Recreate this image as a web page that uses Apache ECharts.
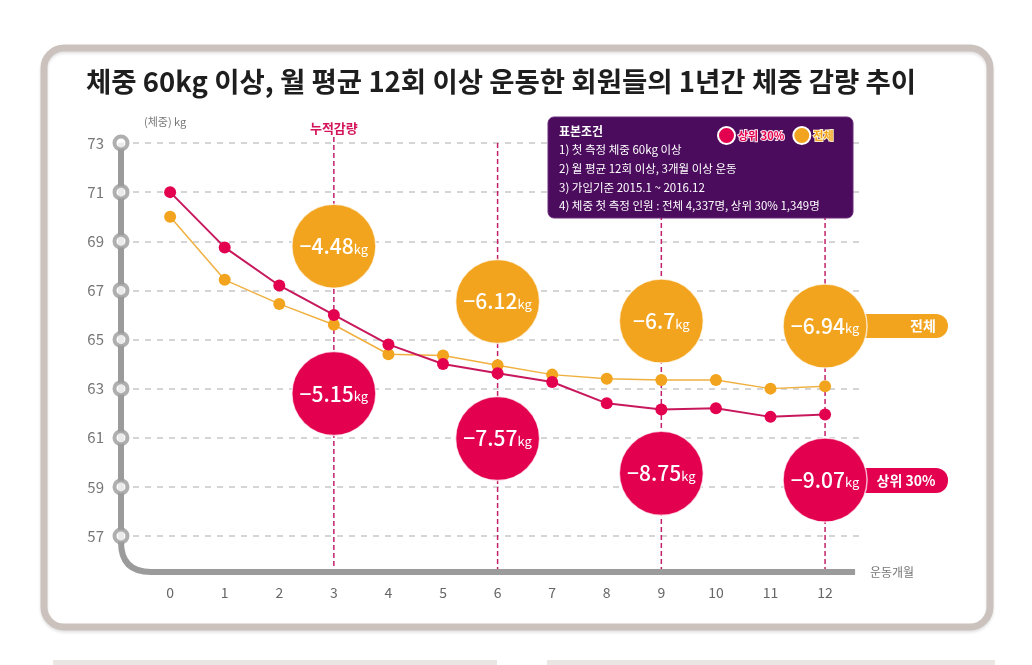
<!DOCTYPE html>
<html>
<head>
<meta charset="utf-8">
<script src="https://cdn.jsdelivr.net/npm/echarts@6/dist/echarts.min.js"></script>
<style>
html,body{margin:0;padding:0;background:#fff;}
#chart{width:1032px;height:665px;}
</style>
</head>
<body>
<div id="chart"></div>
<script>
// 운동 개월 (x축)
var months = [0, 1, 2, 3, 4, 5, 6, 7, 8, 9, 10, 11, 12];
// 상위 30% 체중
var top30 = [71.0, 68.75, 67.2, 66.0, 64.8, 64.0, 63.63, 63.27, 62.4, 62.15, 62.2, 61.85, 61.95];
// 전체 체중
var total = [70.0, 67.43, 66.45, 65.6, 64.4, 64.35, 63.95, 63.57, 63.4, 63.35, 63.35, 63.0, 63.1];
// y축 눈금
var yTicks = [57, 59, 61, 63, 65, 67, 69, 71, 73];
// 누적감량 표시 개월
var markMonths = [3, 6, 9, 12];
var totalLoss = ['-4.48', '-6.12', '-6.7', '-6.94'];
var top30Loss = ['-5.15', '-7.57', '-8.75', '-9.07'];
// 표본조건
var notes = [
    '1) 첫 측정 체중 60kg 이상',
    '2) 월 평균 12회 이상, 3개월 이상 운동',
    '3) 가입기준 2015.1 ~ 2016.12',
    '4) 체중 첫 측정 인원 : 전체 4,337명, 상위 30% 1,349명'
];

var RED = '#e2004f', RED_LINE = '#c8185c';
var ORANGE = '#f2a41e', ORANGE_LINE = '#f0b040';
var FONT = '"Noto Sans CJK KR", "Noto Sans", sans-serif';
// 버블 위치 (선에서 떨어진 거리, kg)
var upGap = [3.2, 2.6, 2.4, 2.45];
var downGap = [3.2, 2.66, 2.6, 2.67];
var X_MIN = -0.9, X_MAX = 12.64;

function pairs(arr){
    return months.map(function(m, i){ return [m, arr[i]]; });
}

function bubbleData(arr, loss, gap, sign){
    return markMonths.map(function(m, i){
        return [m, arr[m] + sign * gap[i], loss[i]];
    });
}

function bubbleSeries(name, color, data){
    return {
        name: name,
        type: 'scatter',
        data: data,
        symbolSize: 84,
        clip: false,
        silent: true,
        z: 5,
        itemStyle: { color: color, borderColor: 'rgba(255,255,255,0.7)', borderWidth: 1.5, opacity: 1 },
        label: {
            show: true,
            position: 'inside',
            formatter: function(p){ return '{n|' + p.value[2].replace('-', '\u2212') + '}{u|kg}'; },
            rich: {
                n: { fontSize: 21, color: '#fff', fontFamily: FONT, fontWeight: 500 },
                u: { fontSize: 13, color: '#fff', fontFamily: FONT, padding: [5, 0, 0, 0] }
            }
        }
    };
}

var el = document.getElementById('chart');
var chart = echarts.init(el);

var option = {
    animation: false,
    textStyle: { fontFamily: FONT },
    title: {
        text: '체중 60kg 이상, 월 평균 12회 이상 운동한 회원들의 1년간 체중 감량 추이',
        left: 81,
        top: 63,
        textStyle: { fontSize: 27.5, fontWeight: 'bold', color: '#1e1e1e', fontFamily: FONT }
    },
    legend: {
        left: 712,
        top: 121,
        z: 120,
        icon: 'circle',
        itemWidth: 17,
        itemHeight: 17,
        itemGap: 7,
        selectedMode: false,
        itemStyle: { borderColor: '#fff', borderWidth: 2 },
        textStyle: { fontSize: 11, fontWeight: 'bold', textBorderColor: '#fbe3ec', textBorderWidth: 2, fontFamily: FONT, padding: [0, 0, 0, -2] },
        data: [
            { name: '상위 30%', itemStyle: { color: RED }, textStyle: { color: RED } },
            { name: '전체', itemStyle: { color: ORANGE }, textStyle: { color: ORANGE, textBorderColor: '#fdf0c8' } }
        ]
    },
    grid: { left: 121, right: 172, top: 143, bottom: 129 },
    xAxis: {
        type: 'value',
        min: X_MIN,
        max: X_MAX,
        offset: 36,
        axisLine: { show: false },
        axisTick: { show: false },
        splitLine: { show: false },
        axisLabel: { customValues: months, color: '#666', fontSize: 14, margin: 14 },
        name: '운동개월',
        nameLocation: 'end',
        nameGap: 10,
        nameTextStyle: { color: '#777', fontSize: 12 }
    },
    yAxis: {
        type: 'value',
        min: 57,
        max: 73,
        interval: 2,
        axisLine: { show: false },
        axisTick: { show: false },
        axisLabel: { color: '#777', fontSize: 15, margin: 17 },
        splitLine: { lineStyle: { color: '#c8c8c8', width: 1.5, type: [6, 6] } },
        name: '(체중) kg',
        nameLocation: 'end',
        nameGap: 16,
        nameTextStyle: { color: '#777', fontSize: 11, align: 'center', padding: [0, 10, 0, 0] }
    },
    series: [{
        name: '상위 30%',
        type: 'line',
        data: pairs(top30),
        symbol: 'circle',
        symbolSize: 12,
        z: 4,
        itemStyle: { color: RED },
        lineStyle: { color: RED_LINE, width: 2 }
    }, {
        name: '전체',
        type: 'line',
        data: pairs(total),
        symbol: 'circle',
        symbolSize: 12,
        z: 3,
        itemStyle: { color: ORANGE },
        lineStyle: { color: ORANGE_LINE, width: 1.5 }
    }, {
        // y축 동그라미 눈금
        type: 'scatter',
        data: yTicks.map(function(v){ return [X_MIN, v]; }),
        symbolSize: 13,
        clip: false,
        silent: true,
        z: 6,
        itemStyle: { color: '#fff', borderColor: '#9b9b9b', borderWidth: 4 }
    },
    bubbleSeries('전체 감량', ORANGE, bubbleData(total, totalLoss, upGap, 1)),
    bubbleSeries('상위 감량', RED, bubbleData(top30, top30Loss, downGap, -1))
    ]
};
chart.setOption(option);

// 장식 요소 (축 곡선, 점선, 표본조건 박스)
function rendDecor(){
    var px = function(x, y){ return chart.convertToPixel({ gridIndex: 0 }, [x, y]); };
    var topLeft = px(X_MIN, 73);
    var bottomLeft = px(X_MIN, 57);
    var axisY = bottomLeft[1] + 36;
    var x0 = topLeft[0], r = 30;
    var axisStyle = { fill: 'none', stroke: '#9b9b9b', lineWidth: 6 };
    var elements = [];

    // 바깥 테두리
    elements.push({
        type: 'rect', z: 0,
        shape: { x: 44, y: 48, width: 946, height: 579, r: 20 },
        style: { fill: 'none', stroke: '#cbc2bd', lineWidth: 7, shadowColor: 'rgba(0,0,0,0.12)', shadowOffsetY: 2, shadowBlur: 3 }
    });
    elements.push({ type: 'rect', z: 0, shape: { x: 53, y: 660, width: 444, height: 6 }, style: { fill: '#e9e6e4' } });
    elements.push({ type: 'rect', z: 0, shape: { x: 547, y: 660, width: 448, height: 6 }, style: { fill: '#e9e6e4' } });

    // 축 선 (둥근 모서리)
    var xEnd = px(12.55, 57)[0];
    elements.push({ type: 'line', z: 3, shape: { x1: x0, y1: topLeft[1], x2: x0, y2: axisY - r }, style: axisStyle });
    elements.push({
        type: 'bezierCurve', z: 3,
        shape: { x1: x0, y1: axisY - r, cpx1: x0, cpy1: axisY, x2: x0 + r, y2: axisY },
        style: axisStyle
    });
    elements.push({ type: 'line', z: 3, shape: { x1: x0 + r, y1: axisY, x2: xEnd, y2: axisY }, style: axisStyle });

    // 누적감량 세로 점선
    markMonths.forEach(function(m, i){
        var p = px(m, 73);
        var y1 = i === 0 ? p[1] - 6 : p[1];
        elements.push({
            type: 'line', z: 1,
            shape: { x1: p[0], y1: y1, x2: p[0], y2: axisY - 3 },
            style: { stroke: '#c4206a', lineWidth: 1.5, lineDash: [5, 3] }
        });
    });
    var p3 = px(3, 73);
    elements.push({
        type: 'text', z: 5, x: p3[0], y: p3[1] - 15,
        style: { text: '누적감량', fill: '#d4145a', font: 'bold 13px ' + FONT, align: 'center', verticalAlign: 'middle' }
    });

    // 오른쪽 이름표
    var oLast = px(12, total[12] + upGap[3]);
    var rLast = px(12, top30[12] - downGap[3]);
    elements.push({
        type: 'rect', z: 1,
        shape: { x: oLast[0], y: oLast[1] - 12, width: 948 - oLast[0], height: 24, r: 12 },
        style: { fill: ORANGE }
    });
    elements.push({
        type: 'text', z: 2, x: 923, y: oLast[1],
        style: { text: '전체', fill: '#fff', font: 'bold 14px ' + FONT, align: 'center', verticalAlign: 'middle' }
    });
    elements.push({
        type: 'rect', z: 1,
        shape: { x: rLast[0], y: rLast[1] - 12, width: 948 - rLast[0], height: 25, r: 12 },
        style: { fill: RED }
    });
    elements.push({
        type: 'text', z: 2, x: 906, y: rLast[1] + 1,
        style: { text: '상위 30%', fill: '#fff', font: 'bold 14px ' + FONT, align: 'center', verticalAlign: 'middle' }
    });

    // 표본조건 박스
    elements.push({
        type: 'rect', z: 100,
        shape: { x: 548, y: 117, width: 305, height: 101, r: 6 },
        style: { fill: '#4b0c5d', stroke: '#6a2a7a', lineWidth: 1 }
    });
    elements.push({
        type: 'text', z: 101, x: 559, y: 131,
        style: { text: '표본조건', fill: '#fff', font: 'bold 12px ' + FONT, verticalAlign: 'middle' }
    });
    notes.forEach(function(t, i){
        elements.push({
            type: 'text', z: 101, x: 559, y: 150 + i * 18.7,
            style: { text: t, fill: '#fff', font: '11.5px ' + FONT, verticalAlign: 'middle' }
        });
    });

    chart.setOption({ graphic: { elements: elements } });
}
rendDecor();
</script>
</body>
</html>
